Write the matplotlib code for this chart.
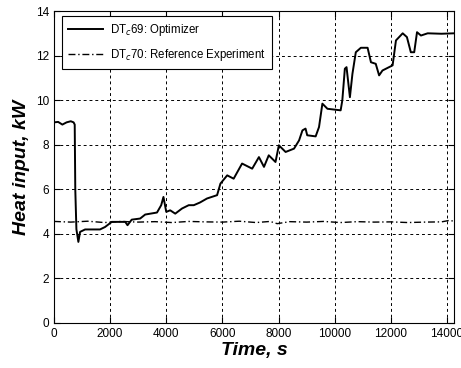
import matplotlib.pyplot as plt

plt.rcParams['font.family'] = ['Liberation Sans', 'DejaVu Sans']

# DT_c69 optimizer run (time s, heat input kW)
t_opt = [0, 150, 300, 450, 600, 700, 740, 760, 800, 870, 930, 1110, 1640, 1820,
         2060, 2540, 2620, 2770, 3070, 3250, 3670, 3820, 3900, 4000, 4140, 4320,
         4560, 4800, 4980, 5200, 5450, 5810, 5930, 6170, 6400, 6700, 7060, 7300,
         7480, 7650, 7890, 8010, 8250, 8550, 8730, 8850, 8960, 9020, 9320, 9440,
         9560, 9740, 10210, 10270, 10360, 10420, 10540, 10630, 10750, 10930,
         11170, 11290, 11460, 11580, 11700, 12060, 12180, 12420, 12570, 12710,
         12830, 12930, 13070, 13310, 13800, 14260]
q_opt = [9.0, 9.02, 8.9, 9.0, 9.05, 9.0, 8.9, 6.0, 4.2, 3.63, 4.08, 4.19, 4.19, 4.3,
         4.53, 4.53, 4.38, 4.63, 4.68, 4.86, 4.95, 5.28, 5.65, 4.98, 5.05, 4.9,
         5.13, 5.28, 5.28, 5.4, 5.58, 5.73, 6.25, 6.62, 6.47, 7.15, 6.92, 7.44,
         7.0, 7.52, 7.22, 7.97, 7.67, 7.82, 8.19, 8.64, 8.72, 8.42, 8.37, 8.79,
         9.84, 9.61, 9.54, 9.99, 11.41, 11.48, 10.13, 11.18, 12.15, 12.35,
         12.35, 11.7, 11.63, 11.11, 11.33, 11.56, 12.68, 13.0, 12.83, 12.15,
         12.15, 13.05, 12.9, 13.0, 12.98, 13.0]

# DT_c70 reference experiment
t_ref = [0, 600, 1200, 1800, 2400, 3000, 3600, 4200, 4800, 5400, 6000, 6600,
         7200, 7700, 7950, 8400, 9000, 9600, 10200, 10800, 11400, 12000, 12600,
         13200, 13800, 14100, 14260]
q_ref = [4.55, 4.52, 4.56, 4.5, 4.55, 4.52, 4.54, 4.5, 4.55, 4.53, 4.52, 4.56,
         4.5, 4.55, 4.45, 4.54, 4.52, 4.55, 4.5, 4.54, 4.52, 4.53, 4.5, 4.52,
         4.53, 4.6, 4.55]

fig = plt.figure(figsize=(4.61, 3.68), dpi=100)
ax = fig.add_axes([0.117, 0.123, 0.868, 0.847])

ax.plot(t_opt, q_opt, color='k', lw=1.4, label='DT$_c$69: Optimizer')
ax.plot(t_ref, q_ref, color='k', lw=1.0, ls=(0, (5, 2, 1, 2)),
        label='DT$_c$70: Reference Experiment')

ax.set_xlim(0, 14250)
ax.set_ylim(0, 14)
ax.set_xticks(range(0, 14001, 2000))
ax.set_yticks(range(0, 15, 2))
ax.grid(True, color='k', ls=(0, (3, 3)), lw=0.7)
ax.tick_params(direction='in', top=True, right=True, labelsize=8.5, length=4)

ax.set_xlabel('Time, s', fontsize=14, fontweight='bold', style='italic', labelpad=2)
ax.set_ylabel('Heat input, kW', fontsize=14, fontweight='bold', style='italic', labelpad=4)

leg = ax.legend(loc='upper left', fontsize=8.3, handlelength=3.0, labelspacing=0.75,
                borderpad=0.55, handletextpad=0.6, fancybox=False, edgecolor='k',
                framealpha=1, borderaxespad=0, bbox_to_anchor=(0.02, 0.984))
leg.get_frame().set_linewidth(0.8)

fig.savefig('out.png', dpi=100)
